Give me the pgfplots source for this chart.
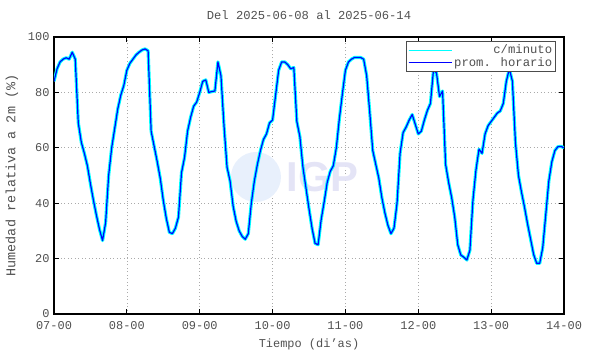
\documentclass[border=0pt]{standalone}
\usepackage{pgfplots}
\pgfplotsset{compat=1.18}
\usepackage{pgfplotstable}
\usepackage{fontspec}
\setmainfont{Liberation Mono}
\newfontfamily\logofont{Liberation Sans}
\definecolor{txt}{RGB}{80,80,80}
\definecolor{gridc}{RGB}{170,170,170}
\definecolor{cyanm}{RGB}{0,255,255}
\definecolor{blueh}{RGB}{0,0,255}
\definecolor{wmtext}{RGB}{228,228,246}
\definecolor{wmcirc}{RGB}{232,240,252}

\pgfplotstableread{
h v
0 84
1 88.5
2 91
3 92
4 92.5
5 92
6 94.5
7 92
8 69
9 62
10 58
11 53.5
12 47
13 41
14 35.5
15 30.5
16 26.5
17 33
18 50
19 60
20 67
21 74
22 79
23 82.5
24 88
25 90.5
26 92
27 93.5
28 94.5
29 95.3
30 95.7
31 95
32 66
33 60.5
34 55
35 49
36 41
37 34.5
38 29.5
39 29
40 31
41 35
42 51
43 56.5
44 66
45 71
46 75
47 76.5
48 80
49 84
50 84.5
51 80
52 80.3
53 80.5
54 91
55 86
56 68
57 53
58 48
59 39
60 33.5
61 30
62 28
63 27
64 29
65 40
66 48
67 54
68 59
69 63
70 65
71 69
72 70
73 79
74 88
75 91
76 91
77 90
78 88.5
79 89
80 69.5
81 64
82 53
83 45.5
84 38
85 31
86 25.5
87 25
88 34
89 40.5
90 47.5
91 51.5
92 53.5
93 60
94 70.5
95 79.5
96 88
97 91
98 92
99 92.6
100 92.6
101 92.6
102 92
103 86
104 73
105 59
106 54
107 49
108 42
109 36.5
110 32
111 29
112 31
113 40
114 58
115 65.5
116 67.5
117 70
118 72
119 68.5
120 65
121 66
122 70
123 73.5
124 76
125 88
126 87
127 78.5
128 80.5
129 54
130 47.5
131 42
132 35
133 25
134 21.3
135 20.5
136 19.5
137 23
138 41
139 52
140 59.5
141 58
142 65
143 68
144 69.5
145 71
146 72.5
147 73.3
148 76
149 84
150 88.5
151 84
152 62
153 50
154 44
155 38.5
156 32.5
157 27
158 21.5
159 18.3
160 18.3
161 24
162 36
163 48
164 55
165 59
166 60.4
167 60.5
168 60
}\hum

\begin{document}
\begin{tikzpicture}
\begin{axis}[
  at={(0,0)}, anchor=south west,
  scale only axis, width=510bp, height=277bp,
  xmin=0, xmax=168, ymin=0, ymax=100,
  xtick={0,24,48,72,96,120,144,168},
  xticklabels={07-00,08-00,09-00,10-00,11-00,12-00,13-00,14-00},
  ytick={0,20,40,60,80,100},
  grid=major,
  major grid style={gridc, line width=0.6bp, dash pattern=on 1bp off 2.5bp},
  axis line style={line width=1.3bp, black},
  major tick length=5bp,
  every tick/.style={black, line width=0.9bp},
  tick label style={font=\fontsize{12}{14}\selectfont, text=txt},
  xticklabel style={yshift=-4bp},
  yticklabel style={xshift=-1bp},
  /pgf/number format/assume math mode=true,
  title={Del 2025-06-08 al 2025-06-14},
  title style={font=\fontsize{12.2}{14}\selectfont, text=txt, at={(axis description cs:0.5,1.058)}, anchor=center},
  xlabel={Tiempo (di{\char39}as)},
  xlabel style={font=\fontsize{12}{14}\selectfont, text=txt, at={(axis description cs:0.5,-0.1083)}, anchor=center},
  ylabel={Humedad relativa a 2m (\%)},
  ylabel style={font=\fontsize{13.5}{15}\selectfont, text=txt, at={(axis description cs:-0.0824,0.5)}, anchor=center},
  legend style={at={(axis description cs:1,1)}, anchor=north east, xshift=-8bp, yshift=-4bp,
    draw=black!70, line width=0.6bp, font=\fontsize{12.3}{12.3}\selectfont,
    inner sep=1.5bp, row sep=-2bp, cells={anchor=east}},
  legend cell align=right,
  legend image code/.code={\draw[#1] (0bp,0bp) -- (31bp,0bp); \path (0bp,0bp) -- (43bp,0bp);},
]
\fill[wmcirc] (axis description cs:0.396,0.4946) circle[radius=25bp];
\node[text=wmtext, font=\logofont\bfseries\fontsize{42}{42}\selectfont] at (axis description cs:0.527,0.493) {IGP};
\addplot[cyanm, line width=3.2bp, line join=round, legend image post style={cyanm, line width=0.8bp}] table[x=h,y=v]{\hum};
\addlegendentry{\textcolor{txt}{c/minuto}}
\addplot[blueh, line width=1.2bp, line join=round, legend image post style={blueh, line width=1.2bp}] table[x=h,y=v]{\hum};
\addlegendentry{\textcolor{txt}{prom. horario}}
\end{axis}
\pgfresetboundingbox
\useasboundingbox (-54bp,-40bp) rectangle (536bp,314bp);
\end{tikzpicture}
\end{document}
